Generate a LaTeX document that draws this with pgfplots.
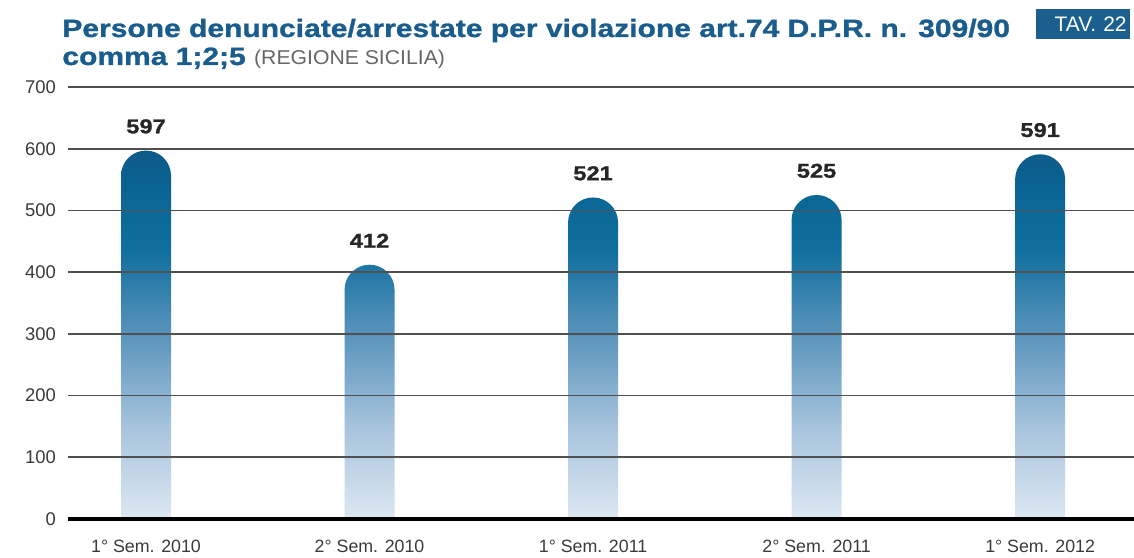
\documentclass[border=0pt]{standalone}
\usepackage{fontspec}
\setmainfont{Liberation Sans}
\newfontfamily\titlefont[FakeStretch=1.2, FakeBold=1.2]{Liberation Sans}
\newfontfamily\subfont[FakeStretch=1.06]{Liberation Sans}
\newfontfamily\valfont[FakeStretch=1.18, FakeBold=1.2]{Liberation Sans}
\usepackage{pgfplots}
\pgfplotsset{compat=1.18}

\definecolor{titleblue}{HTML}{1A5C8C}
\definecolor{tavblue}{HTML}{1B5F8F}
\definecolor{btop}{HTML}{0E5A88}
\definecolor{bone}{HTML}{086493}
\definecolor{btwo}{HTML}{106F9E}
\definecolor{bmid}{HTML}{5A94BB}
\definecolor{bthree}{HTML}{A7C4DD}
\definecolor{bbot}{HTML}{DDE8F2}
\definecolor{gridgray}{HTML}{505050}
\definecolor{labgray}{HTML}{3A3A3A}

\pgfdeclareverticalshading{barshade}{100bp}{color(0bp)=(bbot); color(25bp)=(bbot); color(37.5bp)=(bthree); color(50bp)=(bmid); color(61.5bp)=(btwo); color(70bp)=(bone); color(75bp)=(btop); color(100bp)=(btop)}

\begin{document}
\begin{tikzpicture}
\begin{axis}[
  width=533pt, height=216pt, scale only axis,
  xmin=-0.349, xmax=4.42, ymin=0, ymax=700,
  ybar, bar width=25pt, bar shift=0pt,
  axis line style={draw=none},
  axis on top,
  clip=false,
  ytick={0,100,...,700},
  xtick={0,1,2,3,4},
  xticklabels={1° Sem. 2010, 2° Sem. 2010, 1° Sem. 2011, 2° Sem. 2011, 1° Sem. 2012},
  major tick length=0pt,
  tick style={draw=none},
  ymajorgrids,
  grid style={draw=gridgray, line width=0.8pt},
  extra y ticks={0},
  extra y tick labels={},
  extra y tick style={grid style={draw=black, line width=2pt}},
  /pgf/number format/assume math mode=true,
  yticklabel style={font=\fontsize{9.2}{11}\selectfont, text=labgray, xshift=-2.5pt},
  xticklabel style={font=\fontsize{8.9}{11}\selectfont, text=labgray, yshift=-7pt},
]
\addplot[draw=none, shading=barshade, rounded corners=12.5pt,
  nodes near coords,
  every node near coord/.append style={font=\valfont\bfseries\fontsize{10}{12}\selectfont, text=black!85, yshift=5pt}]
  coordinates {(0,597) (1,412) (2,521) (3,525) (4,591)};
% square off the bottom of each bar
\addplot[draw=none, top color=bthree!30!bbot, bottom color=bbot]
  coordinates {(0,42) (1,42) (2,42) (3,42) (4,42)};
\coordinate (bl) at (rel axis cs:0,0);
\coordinate (tr) at (rel axis cs:1,1);
\node[anchor=base west, inner sep=0, text=titleblue, font=\titlefont\bfseries\fontsize{12.5}{14}\selectfont] at ([xshift=-3pt,yshift=25pt]rel axis cs:0,1) {Persone denunciate/arrestate per violazione art.74 D.P.R. n. 309/90};
\node[anchor=base west, inner sep=0, text=titleblue, font=\titlefont\bfseries\fontsize{12.5}{14}\selectfont] at ([xshift=-3pt,yshift=11pt]rel axis cs:0,1) {comma 1;2;5 {\subfont\mdseries\color{gray!80!black}\fontsize{10}{12}\selectfont (REGIONE SICILIA)}};
\node[anchor=north east, fill=tavblue, text=white, minimum height=15pt, text width=44pt, align=right, inner xsep=1.5pt, inner ysep=0pt, font=\fontsize{10.5}{12}\selectfont] at ([xshift=-2pt,yshift=39pt]rel axis cs:1,1) {TAV. 22};
\end{axis}
\pgfresetboundingbox
\path ([xshift=-34pt,yshift=-19.5pt]bl) rectangle ([yshift=43.5pt]tr);
\end{tikzpicture}
\end{document}
